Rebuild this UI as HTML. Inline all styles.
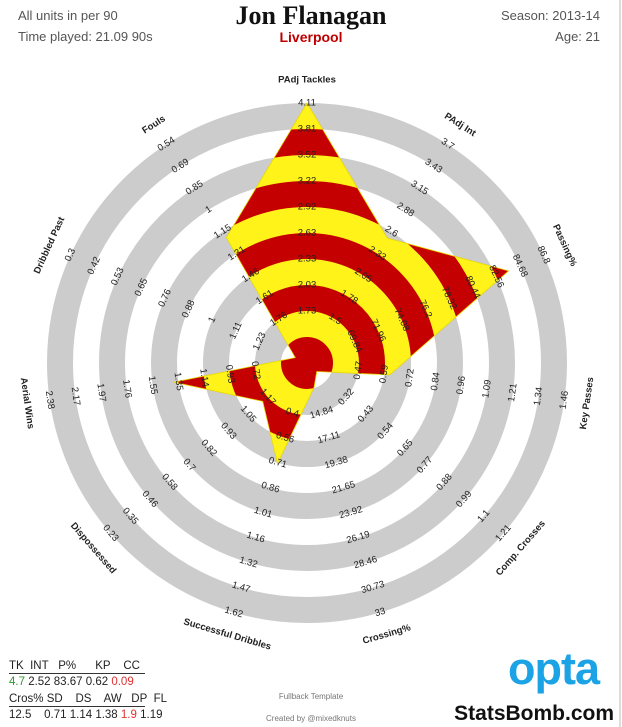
<!DOCTYPE html>
<html><head><meta charset="utf-8"><style>
body{margin:0;background:#fff;}
#wrap{position:relative;width:622px;height:727px;overflow:hidden;background:#fff;font-family:"Liberation Sans",sans-serif;}
.t{position:absolute;white-space:nowrap;}
</style></head><body>
<div id="wrap">
<div class="t" style="left:18px;top:8px;font-size:13px;color:#555;">All units in per 90</div>
<div class="t" style="left:18px;top:29px;font-size:13px;color:#555;">Time played: 21.09 90s</div>
<div class="t" style="left:0;width:622px;text-align:center;top:1px;font-family:'Liberation Serif',serif;font-weight:bold;font-size:26px;color:#111;">Jon Flanagan</div>
<div class="t" style="left:0;width:622px;text-align:center;top:29px;font-size:14px;font-weight:bold;color:#c00000;">Liverpool</div>
<div class="t" style="right:22px;top:8px;font-size:13px;color:#555;">Season: 2013-14</div>
<div class="t" style="right:22px;top:29px;font-size:13px;color:#555;">Age: 21</div>
<div style="position:absolute;left:619px;top:0;width:2px;height:727px;background:#ddd;"></div>

<svg id="chart" width="622" height="727" style="position:absolute;left:0;top:0;"></svg>

<div class="t" style="left:9px;top:658px;font-size:11.5px;color:#222;line-height:17px;">
<div style="border-bottom:1px solid #333;width:136px;height:15px;">TK&nbsp; INT&nbsp;&nbsp; P%&nbsp;&nbsp;&nbsp;&nbsp;&nbsp; KP&nbsp;&nbsp;&nbsp; CC</div>
<div><span style="color:#2e9a2e">4.7</span> 2.52 83.67 0.62 <span style="color:#e03030">0.09</span></div>
<div style="border-bottom:1px solid #333;width:136px;height:15px;">Cros% SD&nbsp;&nbsp;&nbsp; DS&nbsp;&nbsp;&nbsp; AW&nbsp;&nbsp; DP&nbsp; FL</div>
<div>12.5&nbsp;&nbsp;&nbsp; 0.71 1.14 1.38 <span style="color:#e03030">1.9</span> 1.19</div>
</div>
<div class="t" style="left:0;width:622px;text-align:center;top:692px;font-size:8px;color:#777;">Fullback Template</div>
<div class="t" style="left:0;width:622px;text-align:center;top:714px;font-size:8px;color:#777;">Created by @mixedknuts</div>
<div class="t" style="left:508px;top:643px;font-size:45px;font-weight:bold;color:#1ba3e6;letter-spacing:-1px;">opta</div>
<div class="t" style="right:8px;top:702px;font-size:21px;font-weight:bold;color:#111;">StatsBomb.com</div>
</div>
<script>
const axisNames = ["PAdj Tackles","PAdj Int","Passing%","Key Passes","Comp. Crosses","Crossing%","Successful Dribbles","Dispossessed","Aerial Wins","Dribbled Past","Fouls"];
const playerValues = [4.7,2.52,83.67,0.62,0.09,12.5,0.71,1.14,1.38,1.9,1.19];
const tkTicks = [1.73,2.03,2.33,2.63,2.92,3.22,3.52,3.81,4.11];
const intTicks = [1.5,1.78,2.05,2.33,2.6,2.88,3.15,3.43,3.7];
const passTicks = [69.84,71.96,74.08,76.2,78.32,80.44,82.56,84.68,86.8];
const kpTicks = [0.47,0.59,0.72,0.84,0.96,1.09,1.21,1.34,1.46];
const ccTicks = [0.32,0.43,0.54,0.65,0.77,0.88,0.99,1.1,1.21];
const crosTicks = [14.84,17.11,19.38,21.65,23.92,26.19,28.46,30.73,33];
const sdTicks = [0.4,0.56,0.71,0.86,1.01,1.16,1.32,1.47,1.62];
const dsTicks = [1.17,1.05,0.93,0.82,0.7,0.58,0.46,0.35,0.23];
const awTicks = [0.72,0.93,1.14,1.35,1.55,1.76,1.97,2.17,2.38];
const dpTicks = [1.23,1.11,1,0.88,0.76,0.65,0.53,0.42,0.3];
const flTicks = [1.76,1.61,1.46,1.31,1.15,1,0.85,0.69,0.54];
const allTicks = [tkTicks,intTicks,passTicks,kpTicks,ccTicks,crosTicks,sdTicks,dsTicks,awTicks,dpTicks,flTicks];

const NS="http://www.w3.org/2000/svg";
const svg=document.getElementById('chart');
const CX=307, CY=363, BW=26;
function mk(tag,attrs,parent){const e=document.createElementNS(NS,tag);for(const k in attrs)e.setAttribute(k,attrs[k]);(parent||svg).appendChild(e);return e;}
function ang(i){return i*2*Math.PI/axisNames.length;}
function pt(i,r){const a=ang(i);return [CX+r*Math.sin(a),CY-r*Math.cos(a)];}
function rScale(i,v){const t=allTicks[i];const f=t[0],l=t[t.length-1];let r=2*BW+8*BW*(v-f)/(l-f);return Math.max(13,Math.min(10*BW,r));}

for(let b=0;b<9;b+=2){
  const c=mk('circle',{cx:CX,cy:CY,r:BW*(b+1.5),fill:'none',stroke:'#cccccc','stroke-width':BW});
  
  
}
const pts=playerValues.map((v,i)=>pt(i,rScale(i,v)));
const ptsStr=pts.map(p=>p[0].toFixed(1)+','+p[1].toFixed(1)).join(' ');
const defs=mk('defs',{});
const cp=mk('clipPath',{id:'polyclip'},defs);
mk('polygon',{points:ptsStr},cp);
const g=mk('g',{'clip-path':'url(#polyclip)'});


mk('circle',{cx:CX,cy:CY,r:BW*10,fill:'#c40000'},g);
for(let b=0;b<9;b+=2){
  mk('circle',{cx:CX,cy:CY,r:BW*(b+1.5),fill:'none',stroke:'#fff31a','stroke-width':BW},g);
}
const outline=mk('polygon',{points:ptsStr,fill:'none',stroke:'#e8d800','stroke-width':0.8});



function rotFor(i){let d=ang(i)*180/Math.PI;if(d>90&&d<270)d-=180;return d;}
allTicks.forEach((ticks,i)=>{
  ticks.forEach((v,b)=>{
    const p=pt(i,BW*(b+2));
    const t=mk('text',{x:p[0],y:p[1],'text-anchor':'middle','dominant-baseline':'central','font-size':'9.5','fill':'#222','font-family':'Liberation Sans, sans-serif',transform:`rotate(${rotFor(i)} ${p[0]} ${p[1]})`});
    t.textContent=String(v);
    
    
  });
  const p=pt(i,283);
  const t=mk('text',{x:p[0],y:p[1],'text-anchor':'middle','dominant-baseline':'central','font-size':'9.5','font-weight':'bold','fill':'#222','font-family':'Liberation Sans, sans-serif',transform:`rotate(${rotFor(i)} ${p[0]} ${p[1]})`});
  t.textContent=axisNames[i];
  
  
});
</script>
</body></html>
